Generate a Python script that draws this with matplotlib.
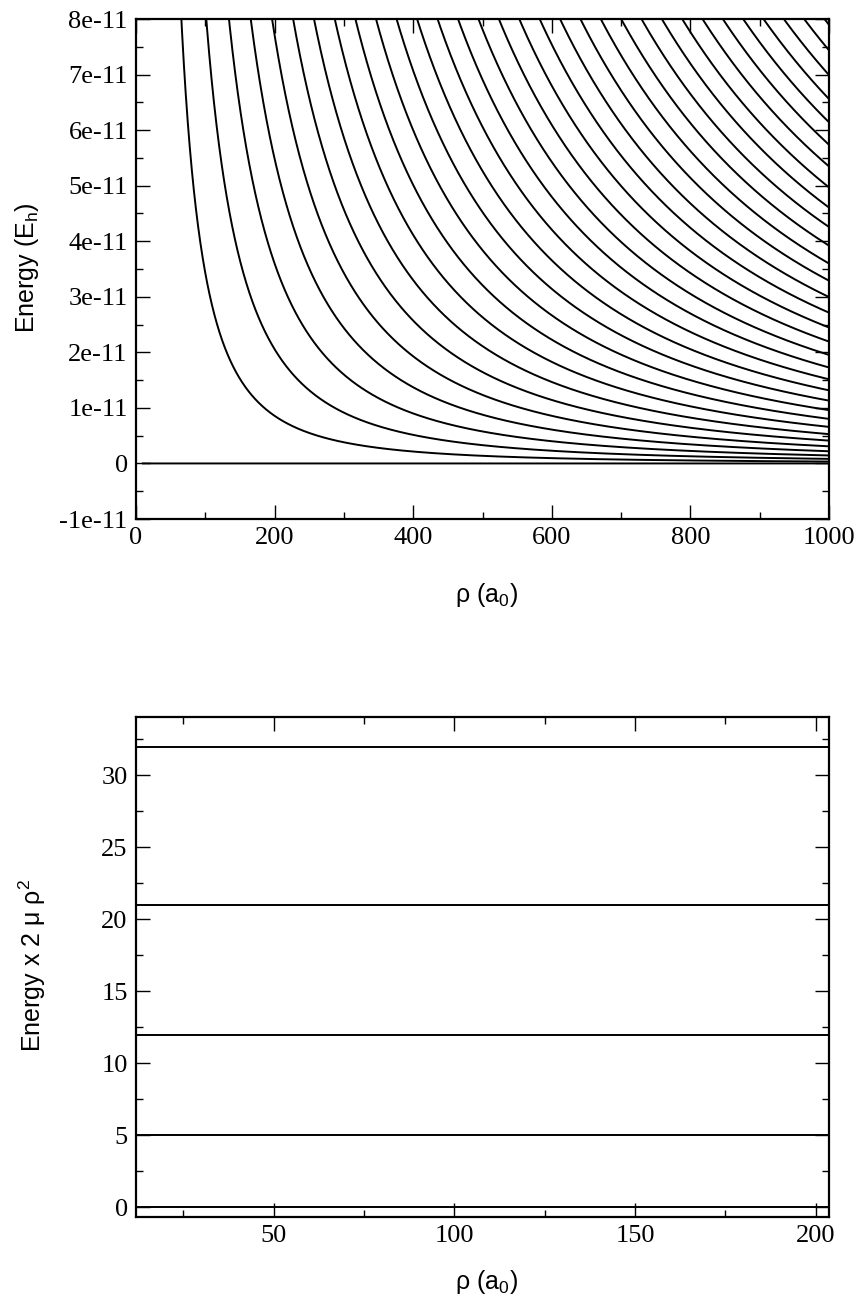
import numpy as np
import matplotlib
matplotlib.use("Agg")
import matplotlib.pyplot as plt
from matplotlib.ticker import MultipleLocator, FixedLocator, FixedFormatter

# scaled channel energies, E * 2 mu rho^2 = K(K+4), K = 0..32
scaled_levels = [0, 5, 12, 21, 32, 45, 60, 77, 96, 117, 140, 165, 192, 221, 252,
                 285, 320, 357, 396, 437, 480, 525, 572, 621, 672, 725, 780, 837,
                 896, 957, 1020, 1085, 1152]
two_mu = 1.459e7           # 2*mu in atomic units, from where curves leave the top edge
rho_top = [10.0, 1000.0]   # rho range of the upper panel curves
rho_bottom = [11.9, 203.7] # rho range of the lower panel
bottom_levels = scaled_levels[:5]

top_yticks = [-1e-11, 0, 1e-11, 2e-11, 3e-11, 4e-11, 5e-11, 6e-11, 7e-11, 8e-11]
top_yticklabels = ["-1e-11", "0", "1e-11", "2e-11", "3e-11", "4e-11", "5e-11",
                   "6e-11", "7e-11", "8e-11"]

plt.rcParams['mathtext.default'] = 'regular'
serif = 'Liberation Serif'
sans = 'Liberation Sans'
tick_fs = 19
label_fs = 18

W, H = 860, 1307
fig = plt.figure(figsize=(W / 100, H / 100), dpi=100)


def px_axes(l, t, r, b):
    return fig.add_axes([l / W, 1 - b / H, (r - l) / W, (b - t) / H])


def style(ax):
    ax.tick_params(which='both', direction='in', top=True, right=True,
                   width=1.0, labelsize=tick_fs, pad=6)
    ax.tick_params(which='major', length=10)
    ax.tick_params(which='minor', length=5)
    for lab in ax.get_xticklabels() + ax.get_yticklabels():
        lab.set_fontfamily(serif)
    for s in ax.spines.values():
        s.set_linewidth(1.6)


# ---- upper panel: E(rho) curves
ax1 = px_axes(136, 19, 829, 519)
rho = np.linspace(rho_top[0], rho_top[1], 3000)
for c in scaled_levels:
    ax1.plot(rho, c / (two_mu * rho ** 2), color='black', lw=1.4)
ax1.set_xlim(0, 1000)
ax1.set_ylim(-1e-11, 8e-11)
ax1.xaxis.set_major_locator(MultipleLocator(200))
ax1.xaxis.set_minor_locator(MultipleLocator(100))
ax1.yaxis.set_major_locator(FixedLocator(top_yticks))
ax1.yaxis.set_major_formatter(FixedFormatter(top_yticklabels))
ax1.yaxis.set_minor_locator(MultipleLocator(0.5e-11))
style(ax1)

# ---- lower panel: scaled energies are flat
ax2 = px_axes(136, 717, 829, 1217)
rr = np.linspace(rho_bottom[0], rho_bottom[1], 200)
for c in bottom_levels:
    ax2.plot(rr, np.full_like(rr, c), color='black', lw=1.4)
ax2.set_xlim(rho_bottom[0], rho_bottom[1])
ax2.set_ylim(-0.67, 34.05)
ax2.xaxis.set_major_locator(MultipleLocator(50))
ax2.xaxis.set_minor_locator(MultipleLocator(25))
ax2.yaxis.set_major_locator(MultipleLocator(5))
ax2.yaxis.set_minor_locator(MultipleLocator(2.5))
style(ax2)

# axis labels
fig.text(486 / W, 1 - 595 / H, r'ρ (a$_0$)', family=sans, fontsize=label_fs,
         ha='center', va='center')
fig.text(486 / W, 1 - 1282 / H, r'ρ (a$_0$)', family=sans, fontsize=label_fs,
         ha='center', va='center')
fig.text(27 / W, 1 - 268 / H, r'Energy (E$_h$)', family=sans, fontsize=label_fs,
         ha='center', va='center', rotation=90)
fig.text(32 / W, 1 - 965 / H, r'Energy x 2 μ ρ$^2$', family=sans, fontsize=label_fs,
         ha='center', va='center', rotation=90)

fig.savefig('out.png', dpi=100)
